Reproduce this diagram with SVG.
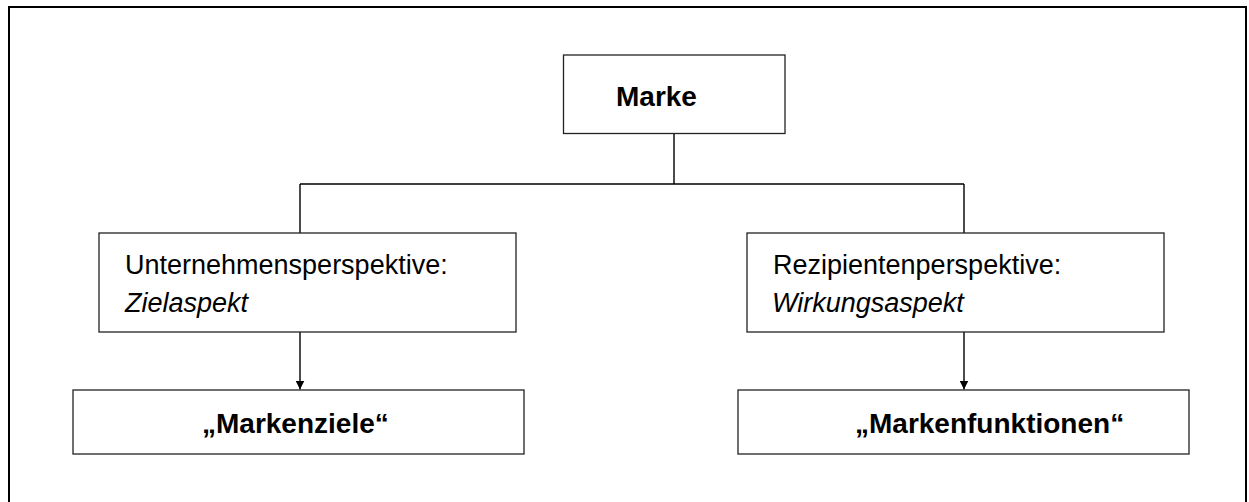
<svg xmlns="http://www.w3.org/2000/svg" width="1249" height="502" viewBox="0 0 1249 502">
<style>
.box{fill:#fff;stroke:#222;stroke-width:1.3}
.frame{fill:none;stroke:#000;stroke-width:2}
.line{fill:none;stroke:#000;stroke-width:1.4}
.b{font-family:"Liberation Sans",Arial,sans-serif;font-weight:bold;font-size:28px;fill:#000}
.r{font-family:"Liberation Sans",Arial,sans-serif;font-size:27px;fill:#000}
.i{font-style:italic}
</style>
<defs>
<marker id="arr" viewBox="0 0 10 10" refX="10" refY="5" markerWidth="9" markerHeight="9" markerUnits="userSpaceOnUse" orient="auto">
<path d="M0,0 L10,5 L0,10 Z" fill="#000"/>
</marker>
</defs>
<rect width="1249" height="502" fill="#fff"/>
<rect class="frame" x="9" y="7" width="1237" height="510"/>
<g id="connectors">
<path class="line" d="M674,133.5 V184 M300,184 H964 M300,184 V233 M964,184 V233"/>
<path class="line" d="M300,332 V389.5" marker-end="url(#arr)"/>
<path class="line" d="M964,332 V389.5" marker-end="url(#arr)"/>
</g>
<g id="marke">
<rect class="box" x="563.5" y="55" width="221.5" height="78.5"/>
<text class="b" x="616" y="105.5">Marke</text>
</g>
<g id="unternehmen">
<rect class="box" x="99" y="233" width="417" height="99"/>
<text class="r" x="125" y="274.3">Unternehmensperspektive:</text>
<text class="r i" x="125" y="311.7">Zielaspekt</text>
</g>
<g id="rezipienten">
<rect class="box" x="747" y="233" width="417" height="99"/>
<text class="r" x="773" y="274.3">Rezipientenperspektive:</text>
<text class="r i" x="772" y="311.7">Wirkungsaspekt</text>
</g>
<g id="markenziele">
<rect class="box" x="73" y="390" width="451" height="64"/>
<text class="b" x="202" y="433.3">„Markenziele“</text>
</g>
<g id="markenfunktionen">
<rect class="box" x="738" y="390" width="451" height="64"/>
<text class="b" x="855" y="433.3">„Markenfunktionen“</text>
</g>
</svg>
